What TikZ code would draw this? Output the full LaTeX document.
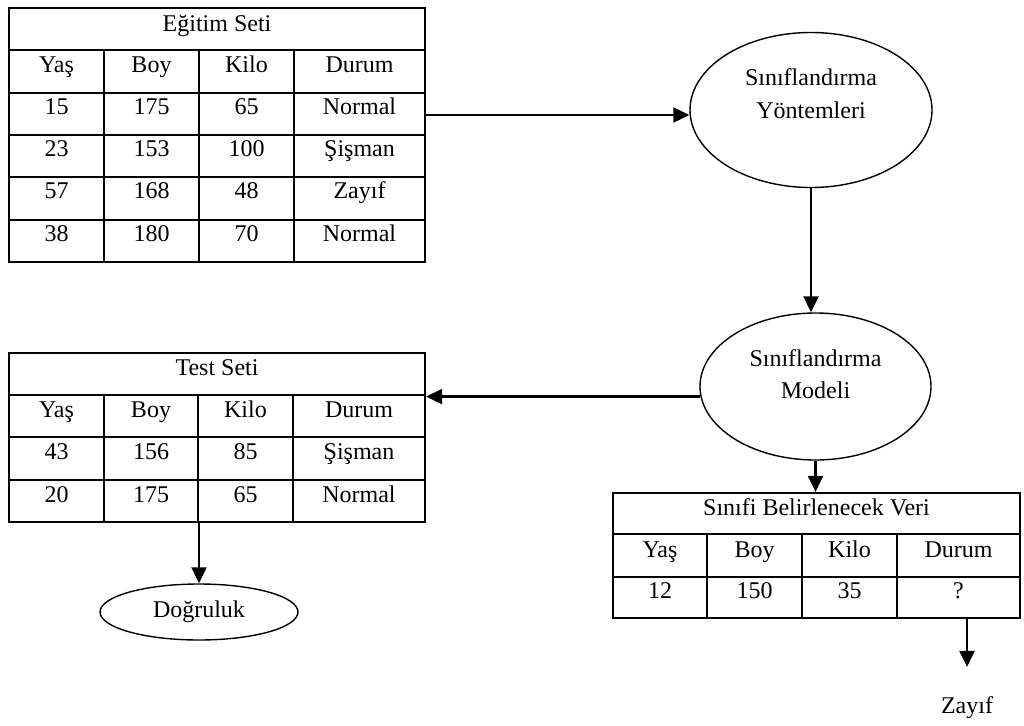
\documentclass[tikz,border=0pt]{standalone}
\usepackage{fontspec}
\setmainfont{Liberation Serif}
\usetikzlibrary{arrows.meta,shapes.geometric}

\begin{document}
\begin{tikzpicture}[x=1pt,y=-1pt,>={Triangle[length=16pt,width=15pt]},
    tablo/.style={draw,line width=2.2pt,inner sep=0pt},
    cizgi/.style={line width=2.2pt},
    hucre/.style={anchor=base,inner sep=0pt},
    oval/.style={draw,ellipse,line width=1.4pt,inner sep=0pt},
    ok/.style={->,line width=2.2pt},
    font=\fontsize{24}{33}\selectfont]

    \useasboundingbox (0,0) rectangle (1024,725);

    % Egitim Seti
    \node[tablo, minimum width=416pt, minimum height=254pt] (egitim) at (217,135) {};
    \foreach \y in {50,93,135,177,220}
        \draw[cizgi] (9,\y) -- (425,\y);
    \foreach \x in {104,199,294}
        \draw[cizgi] (\x,50) -- (\x,262);
    \node[hucre] (egitimbaslik) at (217,32) {Eğitim Seti};
    \foreach \y/\a/\b/\c/\d in {72/Yaş/Boy/Kilo/Durum, 114/15/175/65/Normal,
        156/23/153/100/Şişman, 198/57/168/48/Zayıf, 241/38/180/70/Normal}{
        \node[hucre] at (56.5,\y) {\a};
        \node[hucre] at (151.5,\y) {\b};
        \node[hucre] at (246.5,\y) {\c};
        \node[hucre] at (359.5,\y) {\d};
    }

    % Test Seti
    \node[tablo, minimum width=416pt, minimum height=169pt] (test) at (217,437.5) {};
    \foreach \y in {395,437,480}
        \draw[cizgi] (9,\y) -- (425,\y);
    \foreach \x in {104,198,293}
        \draw[cizgi] (\x,395) -- (\x,522);
    \node[hucre] (testbaslik) at (217,375) {Test Seti};
    \foreach \y/\a/\b/\c/\d in {417/Yaş/Boy/Kilo/Durum, 459/43/156/85/Şişman,
        502/20/175/65/Normal}{
        \node[hucre] at (56.5,\y) {\a};
        \node[hucre] at (151,\y) {\b};
        \node[hucre] at (245.5,\y) {\c};
        \node[hucre] at (359,\y) {\d};
    }

    % Sinifi Belirlenecek Veri
    \node[tablo, minimum width=407pt, minimum height=125pt] (veri) at (816.5,555.5) {};
    \foreach \y in {534,577}
        \draw[cizgi] (613,\y) -- (1020,\y);
    \foreach \x in {707,802,897}
        \draw[cizgi] (\x,534) -- (\x,618);
    \node[hucre] (veribaslik) at (816.5,515) {Sınıfi Belirlenecek Veri};
    \foreach \y/\a/\b/\c/\d in {557/Yaş/Boy/Kilo/Durum, 598/12/150/35/?}{
        \node[hucre] at (660,\y) {\a};
        \node[hucre] at (754.5,\y) {\b};
        \node[hucre] at (849.5,\y) {\c};
        \node[hucre] at (958.5,\y) {\d};
    }

    % ovaller
    \node[oval, minimum width=242pt, minimum height=155pt] (yontem) at (811,110) {};
    \node[hucre] (yontem1) at (811,85) {Sınıflandırma};
    \node[hucre] (yontem2) at (811,118) {Yöntemleri};

    \node[oval, minimum width=231pt, minimum height=147pt] (model) at (815.5,386.5) {};
    \node[hucre] (model1) at (815.5,366) {Sınıflandırma};
    \node[hucre] (model2) at (815.5,398) {Modeli};

    \node[oval, minimum width=198pt, minimum height=56pt] (dogruluk) at (199,612) {Doğruluk};

    \node[hucre] (zayif) at (967,713) {Zayıf};

    % oklar
    \draw[ok] (egitim.east |- 0,115) -- (yontem.west |- 0,115);
    \draw[ok] (yontem.south) -- (yontem.south |- model.north);
    \draw[ok] (model.185) -- (model.185 -| test.east);
    \draw[ok] (dogruluk.north |- test.south) -- (dogruluk.north);
    \draw[ok] (model.south) -- (model.south |- veri.north);
    \draw[ok, shorten >=29pt] (zayif.north |- veri.south) -- (zayif.north);

\end{tikzpicture}
\end{document}
